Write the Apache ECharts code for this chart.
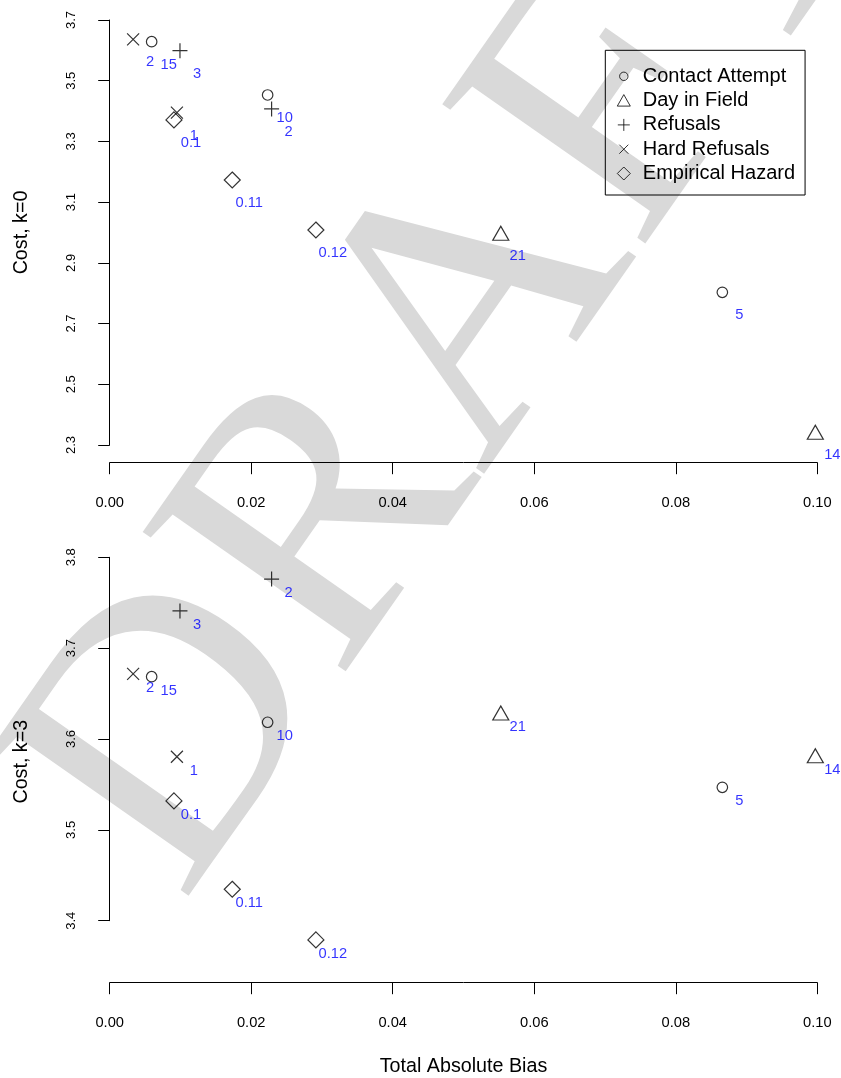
<!DOCTYPE html>
<html><head><meta charset="utf-8">
<script src="https://cdn.jsdelivr.net/npm/echarts@6/dist/echarts.min.js"></script>
<style>html,body{margin:0;padding:0;background:#fff}#c{width:841px;height:1078px}</style>
</head><body><div id="c"></div>
<script>
// ---------- data ----------
const seriesNames = ['Contact Attempt', 'Day in Field', 'Refusals', 'Hard Refusals', 'Empirical Hazard'];

const contactBias   = [0.00593, 0.02232, 0.08658];
const contactK0     = [3.6285, 3.453, 2.803];
const contactK3     = [3.6686, 3.6184, 3.5468];
const contactLabels = ['15', '10', '5'];

const dayBias   = [0.05527, 0.09972];
const dayK0     = [2.9974, 2.342];
const dayK3     = [3.6286, 3.5816];
const dayLabels = ['21', '14'];

const refBias   = [0.00993, 0.02288];
const refK0     = [3.599, 3.407];
const refK3     = [3.741, 3.776];
const refLabels = ['3', '2'];

const hardBias   = [0.00331, 0.00950];
const hardK0     = [3.636, 3.395];
const hardK3     = [3.6716, 3.5805];
const hardLabels = ['2', '1'];

const hazBias   = [0.00908, 0.01732, 0.02914];
const hazK0     = [3.371, 3.173, 3.0083];
const hazK3     = [3.5318, 3.4346, 3.3788];
const hazLabels = ['0.1', '0.11', '0.12'];

const xTickLabels = ['0.00', '0.02', '0.04', '0.06', '0.08', '0.10'];

// ---------- styles ----------
const FONT = '"Liberation Sans", Arial, Helvetica, sans-serif';
const symbols = ['circle', 'triangle', 'path://M0,7.5H15M7.5,0V15', 'path://M0,0L10,10M10,0L0,10', 'diamond'];
const symbolSizes = [10.5, [16, 14], 15, 12, 16];
// legend icons drawn inside a 28x13 box so the text sits at the right distance
const legendIcons = [
  'path://M0,0M28,13M18.2,6.5A4.2,4.2,0,1,1,9.8,6.5A4.2,4.2,0,1,1,18.2,6.5Z',
  'path://M0,0M28,13M14,0.5L20.5,12L7.5,12Z',
  'path://M0,0M28,13M8,6.5H20M14,0.5V12.5',
  'path://M0,0M28,13M9.5,2L18.5,11M18.5,2L9.5,11',
  'path://M0,0M28,13M14,0L20.5,6.5L14,13L7.5,6.5Z'
];

const groups = [
  [contactBias, contactK0, contactK3, contactLabels],
  [dayBias, dayK0, dayK3, dayLabels],
  [refBias, refK0, refK3, refLabels],
  [hardBias, hardK0, hardK3, hardLabels],
  [hazBias, hazK0, hazK3, hazLabels]
];

function zip(xs, ys, ls) { return xs.map((x, i) => [x, ys[i], ls[i]]); }

const series = [];
groups.forEach((g, i) => {
  const base = {
    type: 'scatter',
    name: seriesNames[i],
    symbol: symbols[i],
    symbolSize: symbolSizes[i],
    itemStyle: { color: 'rgba(0,0,0,0)', borderColor: '#000', borderWidth: 1.2 },
    emphasis: { disabled: true },
    animation: false
  };
  series.push(Object.assign({}, base, {
    xAxisIndex: 0, yAxisIndex: 0,
    data: zip(g[0], g[1], g[3]),
    label: { show: true, position: 'inside', offset: [17, 23], formatter: p => p.data[2],
             color: '#0000ff', fontSize: 14.7, fontFamily: FONT }
  }));
  series.push(Object.assign({}, base, {
    xAxisIndex: 2, yAxisIndex: 2,
    data: zip(g[0], g[2], g[3]),
    label: { show: true, position: 'inside', offset: [17, 14], formatter: p => p.data[2],
             color: '#0000ff', fontSize: 14.7, fontFamily: FONT }
  }));
});

const axLine = { show: true, lineStyle: { color: '#000', width: 1 } };
const axTick = { show: true, length: 11.5, lineStyle: { color: '#000', width: 1 } };

function xAx(gridIndex, offset, extra) {
  return Object.assign({
    gridIndex, type: 'value', min: 0, max: 0.1, interval: 0.02, offset,
    axisLine: axLine, axisTick: axTick, splitLine: { show: false },
    axisLabel: { margin: 32.5, fontSize: 14.7, color: '#000', fontFamily: FONT,
                 showMinLabel: true, showMaxLabel: true,
                 formatter: v => xTickLabels[Math.round(v / 0.02)] }
  }, extra || {});
}
function yAx(gridIndex, min, max, interval, name, extra) {
  return Object.assign({
    gridIndex, type: 'value', min, max, interval, offset: 4.4,
    axisLine: axLine, axisTick: axTick, splitLine: { show: false },
    axisLabel: { margin: 27, rotate: 90, fontSize: 13, color: '#000', fontFamily: FONT,
                 showMinLabel: true, showMaxLabel: true, formatter: v => v.toFixed(1) },
    name, nameLocation: 'middle', nameGap: 73.5,
    nameTextStyle: { fontSize: 19.7, color: '#000', fontFamily: FONT }
  }, extra || {});
}

const option = {
  backgroundColor: '#fff',
  animation: false,
  textStyle: { fontFamily: FONT },
  graphic: [{
    type: 'text', x: 455, y: 343, rotation: 55 * Math.PI / 180, z: -100, silent: true,
    style: { text: 'DRAFT', font: '376px "Liberation Serif", "DejaVu Serif", serif',
             fill: '#d9d9d9', align: 'center', verticalAlign: 'middle' }
  }],
  grid: [
    { left: 109.7, right: 23.7, top: 20, height: 425 },
    { left: 109.7, right: 23.7, top: 557.3, height: 363.4 },
    { left: 109.7, right: 23.7, top: 557.3, height: 408.8 }
  ],
  xAxis: [
    xAx(0, 17.7),
    xAx(1, 62, { name: 'Total Absolute Bias', nameLocation: 'middle', nameGap: 73.5,
                 nameTextStyle: { fontSize: 19.7, color: '#000', fontFamily: FONT } }),
    { gridIndex: 2, type: 'value', min: 0, max: 0.1, show: false }
  ],
  yAxis: [
    yAx(0, 2.3, 3.7, 0.2, 'Cost, k=0'),
    yAx(1, 3.4, 3.8, 0.1, ''),
    { gridIndex: 2, type: 'value', min: 3.35, max: 3.8, offset: 4.4,
      axisLine: { show: false }, axisTick: { show: false }, axisLabel: { show: false },
      splitLine: { show: false },
      name: 'Cost, k=3', nameLocation: 'middle', nameGap: 73.5,
      nameTextStyle: { fontSize: 19.7, color: '#000', fontFamily: FONT } }
  ],
  legend: {
    orient: 'vertical', left: 605.3, top: 50.3,
    itemWidth: 28, itemHeight: 13, itemGap: 4.3,
    padding: [16, 10, 11.5, 4],
    borderColor: '#000', borderWidth: 1, backgroundColor: 'transparent',
    selectedMode: false,
    textStyle: { fontSize: 20, color: '#000', fontFamily: FONT },
    data: seriesNames.map((n, i) => ({
      name: n, icon: legendIcons[i],
      itemStyle: { color: 'rgba(0,0,0,0)', borderColor: '#000', borderWidth: 1 }
    }))
  },
  series
};

const chart = echarts.init(document.getElementById('c'), null, { renderer: 'canvas' });
chart.setOption(option);
</script>
</body></html>
